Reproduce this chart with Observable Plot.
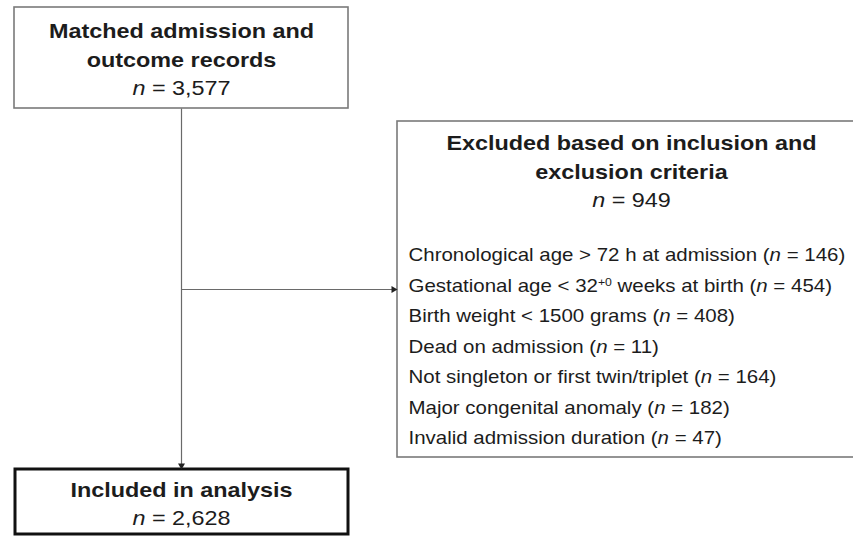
<!DOCTYPE html>
<html><head><meta charset="utf-8">
<script src="https://cdn.jsdelivr.net/npm/d3@7"></script>
<script src="https://cdn.jsdelivr.net/npm/@observablehq/plot@0.6"></script>
<style>body{margin:0;background:#fff}</style>
</head><body><div id="chart"></div>
<script>
// ---- data ----
const startTitle = ["Matched admission and", "outcome records"];
const startCount = "3,577";
const excludedTitle = ["Excluded based on inclusion and", "exclusion criteria"];
const excludedCount = "949";
const exclusionReasons = [
  "Chronological age > 72 h at admission",
  "Gestational age < 32+0 weeks at birth",
  "Birth weight < 1500 grams",
  "Dead on admission",
  "Not singleton or first twin/triplet",
  "Major congenital anomaly",
  "Invalid admission duration"
];
const exclusionCounts = [146, 454, 408, 11, 164, 182, 47];
const includedTitle = ["Included in analysis"];
const includedCount = "2,628";

// ---- layout ----
const W = 853, H = 536;
const boxes = [
  {id: "start", x1: 14, x2: 348, y1: 7, y2: 108},
  {id: "excluded", x1: 397, x2: 870, y1: 121, y2: 457},
  {id: "included", x1: 15, x2: 348, y1: 469, y2: 534}
];
const B = Object.fromEntries(boxes.map(b => [b.id, b]));
const cx = b => (b.x1 + b.x2) / 2;
const mainX = cx(B.start);
const rightCx = 631;

const boldLines = [
  ...startTitle.map((t, i) => ({x: mainX, y: 31 + i * 29.5, t})),
  ...excludedTitle.map((t, i) => ({x: rightCx, y: 143 + i * 29, t})),
  ...includedTitle.map((t, i) => ({x: mainX, y: 490 + i * 29, t}))
];
const countLines = [
  {x: mainX, y: 88, t: `n = ${startCount}`},
  {x: rightCx, y: 200, t: `n = ${excludedCount}`},
  {x: mainX, y: 518, t: `n = ${includedCount}`}
];
const listLines = exclusionReasons.map((r, i) => ({
  x: 408, y: 255 + i * 30.5, t: `${r} (n = ${exclusionCounts[i]})`
}));

const arrowY = 289;
const links = [
  {x1: mainX, y1: B.start.y2, x2: mainX, y2: B.included.y1 - 5},
  {x1: mainX, y1: arrowY, x2: B.excluded.x1 - 5, y2: arrowY}
];
const heads = [
  {x: mainX, y: B.included.y1 - 4, r: 180},
  {x: B.excluded.x1 - 4, y: arrowY, r: 90}
];

const font = "'Liberation Sans', Arial, Helvetica, sans-serif";
const ink = "#1c1c1c";

const plot = Plot.plot({
  width: W, height: H,
  margin: 0,
  x: {domain: [0, W], range: [0, W], axis: null},
  y: {domain: [0, H], range: [0, H], axis: null},
  style: {fontFamily: font, background: "white"},
  marks: [
    Plot.rect([B.start, B.excluded], {x1: "x1", x2: "x2", y1: "y1", y2: "y2", fill: "white", stroke: "#7a7a7a", strokeWidth: 1.6}),
    Plot.rect([B.included], {x1: "x1", x2: "x2", y1: "y1", y2: "y2", fill: "white", stroke: "#111", strokeWidth: 3}),
    Plot.link(links, {x1: "x1", y1: "y1", x2: "x2", y2: "y2", stroke: "#6a6a6a", strokeWidth: 1.2}),
    Plot.dot(heads, {x: "x", y: "y", rotate: "r", symbol: "triangle", r: 2.6, fill: "#222", stroke: "none"}),
    Plot.text(boldLines, {x: "x", y: "y", text: "t", fontSize: 19.5, fontWeight: "bold", fill: ink, textAnchor: "middle", className: "wide"}),
    Plot.text(countLines, {x: "x", y: "y", text: "t", fontSize: 19.5, fill: ink, textAnchor: "middle", className: "wide"}),
    Plot.text(listLines, {x: "x", y: "y", text: "t", fontSize: 17.5, fill: ink, textAnchor: "start", className: "list"})
  ]
});

// horizontal stretch of the reference lettering
const stretch = (sel, k) => plot.querySelectorAll(sel).forEach(t => {
  const tr = t.getAttribute("transform") || "";
  t.setAttribute("transform", `${tr} scale(${k},1)`);
});
stretch("g.wide text", 1.2);
stretch("g.list text", 1.17);

// italic "n" and superscript "+0"
plot.querySelectorAll("text").forEach(t => {
  if (t.querySelector("tspan")) return;
  const s = t.textContent;
  const parts = s.split(/(\bn(?= = )|\+0)/);
  if (parts.length === 1) return;
  t.textContent = "";
  for (const p of parts) {
    if (!p) continue;
    const ts = document.createElementNS("http://www.w3.org/2000/svg", "tspan");
    if (p === "n") ts.setAttribute("font-style", "italic");
    else if (p === "+0") { ts.setAttribute("baseline-shift", "super"); ts.setAttribute("font-size", "60%"); }
    ts.textContent = p;
    t.appendChild(ts);
  }
});

document.getElementById("chart").appendChild(plot);
</script>
</body></html>
